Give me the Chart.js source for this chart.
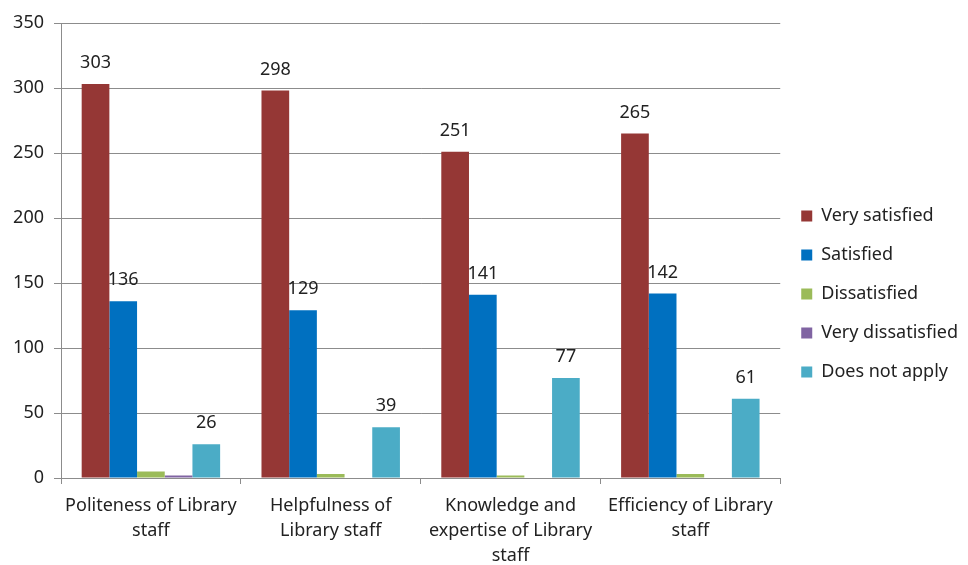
<!DOCTYPE html>
<html>
<head>
<meta charset="utf-8">
<script src="https://cdn.jsdelivr.net/npm/chart.js@4/dist/chart.umd.min.js"></script>
<style>
  html, body { margin: 0; padding: 0; background: #fff; }
  #wrap { width: 968px; height: 565px; position: relative; }
</style>
</head>
<body>
<div id="wrap"><canvas id="libraryChart"></canvas></div>
<script>
const categories = [
    ['Politeness of Library', 'staff'],
    ['Helpfulness of', 'Library staff'],
    ['Knowledge and', 'expertise of Library', 'staff'],
    ['Efficiency of Library', 'staff']
];
const seriesNames = ['Very satisfied', 'Satisfied', 'Dissatisfied', 'Very dissatisfied', 'Does not apply'];
const verySatisfied = [303, 298, 251, 265];
const satisfied = [136, 129, 141, 142];
const dissatisfied = [5, 3, 2, 3];
const veryDissatisfied = [2, 0, 0, 0];
const doesNotApply = [26, 39, 77, 61];
const yTicks = [0, 50, 100, 150, 200, 250, 300, 350];

const colors = ['#953735', '#0070C0', '#9BBB59', '#8064A2', '#4BACC6'];
const labelledSeries = [0, 1, 4];

const FONT = 'Noto Sans';
const FS = 18;

// value labels over some of the bars
const barLabels = {
    id: 'barLabels',
    afterDatasetsDraw(chart) {
        const c = chart.ctx;
        c.save();
        c.font = FS + 'px "' + FONT + '"';
        c.fillStyle = '#222';
        c.textAlign = 'center';
        c.textBaseline = 'bottom';
        labelledSeries.forEach(function(i) {
            const meta = chart.getDatasetMeta(i);
            meta.data.forEach(function(bar, j) {
                c.fillText(chart.data.datasets[i].data[j], bar.x, bar.y - 12);
            });
        });
        c.restore();
    }
};

const allSeries = [verySatisfied, satisfied, dissatisfied, veryDissatisfied, doesNotApply];

const ctx = document.getElementById('libraryChart').getContext('2d');
new Chart(ctx, {
    type: 'bar',
    data: {
        labels: categories,
        datasets: allSeries.map(function(vals, i) {
            return {
                label: seriesNames[i],
                data: vals,
                backgroundColor: colors[i],
                barPercentage: 1.0,
                categoryPercentage: 0.77
            };
        })
    },
    options: {
        responsive: true,
        maintainAspectRatio: false,
        animation: false,
        layout: { padding: { top: 23, right: 0, left: 0, bottom: 0 } },
        plugins: {
            legend: {
                position: 'right',
                labels: {
                    boxWidth: 11,
                    boxHeight: 11,
                    padding: 21,
                    color: '#222',
                    font: { family: FONT, size: FS }
                }
            },
            tooltip: { enabled: false }
        },
        scales: {
            y: {
                min: 0,
                max: 350,
                afterBuildTicks: function(axis) {
                    axis.ticks = yTicks.map(function(v) { return { value: v }; });
                },
                afterFit: function(axis) { axis.width = 61; },
                ticks: {
                    color: '#222',
                    padding: 10,
                    font: { family: FONT, size: FS }
                },
                grid: {
                    color: '#8c8c8c',
                    tickLength: 7,
                    drawTicks: true
                },
                border: { color: '#8c8c8c' }
            },
            x: {
                afterFit: function(axis) { axis.height = 87; },
                grid: {
                    display: true,
                    drawOnChartArea: false,
                    offset: true,
                    tickLength: 6,
                    color: '#8c8c8c'
                },
                border: { color: '#8c8c8c' },
                ticks: {
                    color: '#222',
                    padding: 9,
                    maxRotation: 0,
                    autoSkip: false,
                    font: { family: FONT, size: FS, lineHeight: 1.39 }
                }
            }
        }
    },
    plugins: [barLabels]
});
</script>
</body>
</html>
